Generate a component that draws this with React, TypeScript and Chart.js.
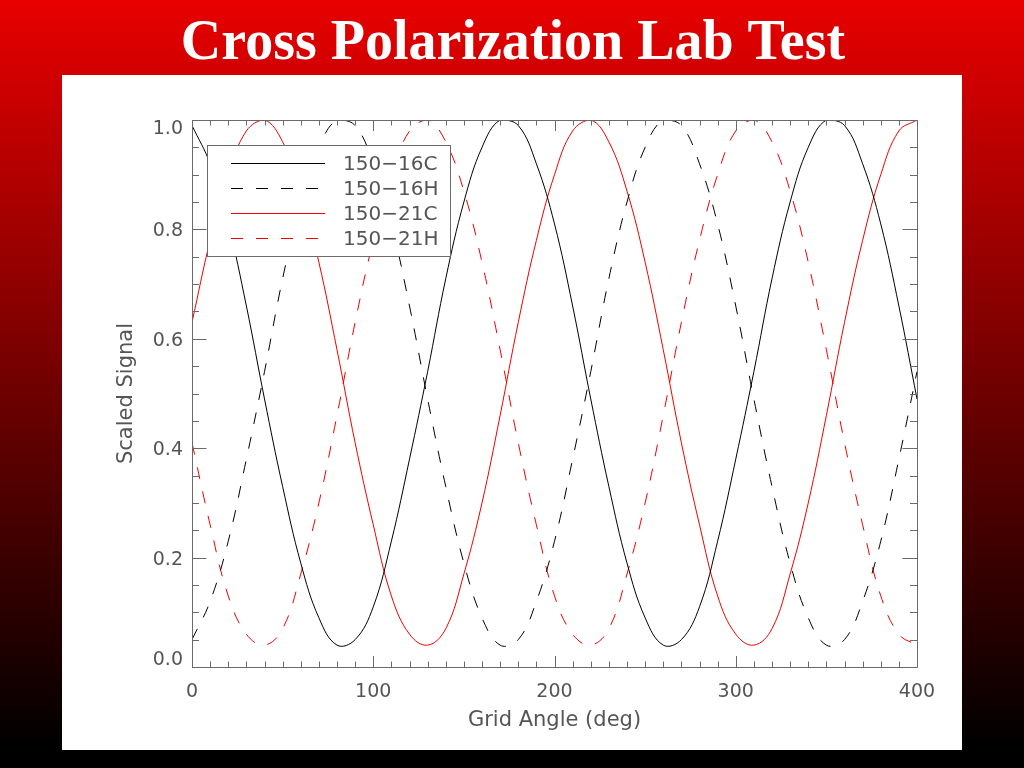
import React, { useEffect, useRef } from "react";
import { Chart, registerables } from "chart.js";

Chart.register(...registerables);

// ---- data ----
const ANGLES = [
  0, 10, 20, 30, 40, 50, 60, 70, 80, 90, 100, 110, 120, 130, 140, 150, 160, 170,
  180, 190, 200, 210, 220, 230, 240, 250, 260, 270, 280, 290, 300, 310, 320, 330,
  340, 350, 360, 370, 380, 390, 400,
];

const SIG_150_16C = [
  0.99, 0.92, 0.81, 0.66, 0.49, 0.33, 0.19, 0.09, 0.04, 0.05, 0.11, 0.23, 0.38, 0.54,
  0.71, 0.85, 0.95, 1.0, 0.99, 0.92, 0.81, 0.66, 0.49, 0.33, 0.19, 0.09, 0.04, 0.05,
  0.11, 0.23, 0.38, 0.54, 0.71, 0.85, 0.95, 1.0, 0.99, 0.92, 0.81, 0.66, 0.49,
];

const SIG_150_16H = [
  0.05, 0.12, 0.23, 0.38, 0.54, 0.71, 0.85, 0.95, 1.0, 0.99, 0.92, 0.81, 0.66, 0.49,
  0.33, 0.19, 0.09, 0.04, 0.05, 0.12, 0.23, 0.38, 0.54, 0.71, 0.85, 0.95, 1.0, 0.99,
  0.92, 0.81, 0.66, 0.49, 0.33, 0.19, 0.09, 0.04, 0.05, 0.12, 0.23, 0.38, 0.54,
];

const SIG_150_21C = [
  0.63, 0.78, 0.9, 0.98, 1.0, 0.96, 0.87, 0.74, 0.58, 0.41, 0.26, 0.13, 0.06, 0.04,
  0.07, 0.17, 0.3, 0.46, 0.63, 0.78, 0.9, 0.98, 1.0, 0.96, 0.87, 0.74, 0.58, 0.41,
  0.26, 0.13, 0.06, 0.04, 0.07, 0.17, 0.3, 0.46, 0.63, 0.78, 0.9, 0.98, 1.0,
];

const SIG_150_21H = [
  0.41, 0.26, 0.13, 0.06, 0.04, 0.07, 0.17, 0.3, 0.46, 0.63, 0.78, 0.9, 0.98, 1.0,
  0.96, 0.87, 0.74, 0.58, 0.41, 0.26, 0.13, 0.06, 0.04, 0.07, 0.17, 0.3, 0.46, 0.63,
  0.78, 0.9, 0.98, 1.0, 0.96, 0.87, 0.74, 0.58, 0.41, 0.26, 0.13, 0.06, 0.04,
];

const SERIES_LABELS = ["150\u221216C", "150\u221216H", "150\u221221C", "150\u221221H"];
const TITLE = "Cross Polarization Lab Test";
const X_TITLE = "Grid Angle (deg)";
const Y_TITLE = "Scaled Signal";
const X_MIN = 0;
const X_MAX = 400;
const X_STEP = 100;
const X_MINOR = 10;
const Y_MIN = 0;
const Y_MAX = 1;
const Y_STEP = 0.2;
const Y_MINOR = 0.05;

const BLACK = "#000000";
const RED = "rgb(240,0,0)";
const AXIS_GRAY = "#6a6a6a";
const TEXT_GRAY = "#555555";
const DASH = [12, 13];
const TICK_FONT = '19px "DejaVu Sans", sans-serif';

const toPoints = (vals: number[]) => ANGLES.map((a, i) => ({ x: a, y: vals[i] }));

const backgroundPlugin = {
  id: "slideBackground",
  beforeDraw(chart: any) {
    const { ctx, width, height } = chart;
    ctx.save();
    const g = ctx.createLinearGradient(0, 0, 0, 745);
    g.addColorStop(0, "#e80000");
    g.addColorStop(1, "#000000");
    ctx.fillStyle = g;
    ctx.fillRect(0, 0, width, height);
    ctx.fillStyle = "#ffffff";
    ctx.fillRect(62, 75, 900, 675);
    // slide title
    ctx.fillStyle = "#ffffff";
    ctx.font = 'bold 56px "Liberation Serif", serif';
    ctx.textAlign = "center";
    ctx.textBaseline = "alphabetic";
    ctx.fillText(TITLE, 513, 59);
    ctx.restore();
  },
};

const framePlugin = {
  id: "idlFrame",
  afterDatasetsDraw(chart: any) {
    const { ctx, chartArea } = chart;
    const xs = chart.scales.x;
    const ys = chart.scales.y;
    const { left, right, top, bottom } = chartArea;
    ctx.save();
    ctx.strokeStyle = AXIS_GRAY;
    ctx.lineWidth = 1;
    ctx.setLineDash([]);
    ctx.beginPath();
    ctx.rect(Math.round(left) + 0.5, Math.round(top) + 0.5, Math.round(right - left), Math.round(bottom - top));
    ctx.stroke();

    const xMaj = 11;
    const xMin = 5.5;
    const yMaj = 14.5;
    const yMin = 7;
    ctx.beginPath();
    const nx = Math.round((X_MAX - X_MIN) / X_MINOR);
    for (let i = 0; i <= nx; i++) {
      const v = X_MIN + i * X_MINOR;
      const px = Math.round(xs.getPixelForValue(v)) + 0.5;
      const len = Math.abs(v % X_STEP) < 1e-6 ? xMaj : xMin;
      ctx.moveTo(px, bottom);
      ctx.lineTo(px, bottom - len);
      ctx.moveTo(px, top);
      ctx.lineTo(px, top + len);
    }
    const ny = Math.round((Y_MAX - Y_MIN) / Y_MINOR);
    for (let i = 0; i <= ny; i++) {
      const v = Y_MIN + i * Y_MINOR;
      const py = Math.round(ys.getPixelForValue(v)) + 0.5;
      const isMaj = i % Math.round(Y_STEP / Y_MINOR) === 0;
      const len = isMaj ? yMaj : yMin;
      ctx.moveTo(left, py);
      ctx.lineTo(left + len, py);
      ctx.moveTo(right, py);
      ctx.lineTo(right - len, py);
    }
    ctx.stroke();

    // y tick labels, IDL style (end labels kept inside the axis range)
    ctx.fillStyle = TEXT_GRAY;
    ctx.font = TICK_FONT;
    ctx.textAlign = "right";
    ctx.textBaseline = "middle";
    for (const t of ys.ticks) {
      const py = ys.getPixelForValue(t.value) + 2;
      const y = Math.min(Math.max(py, top + 9), bottom - 7);
      ctx.fillText(Number(t.value).toFixed(1), left - 9, y);
    }

    // legend box (IDL style)
    const bx = 207.5;
    const by = 145.5;
    const bw = 243;
    const bh = 111;
    ctx.fillStyle = "#ffffff";
    ctx.fillRect(bx, by, bw, bh);
    ctx.strokeStyle = AXIS_GRAY;
    ctx.strokeRect(bx, by, bw, bh);
    const ds = chart.data.datasets;
    ctx.font = '20px "DejaVu Sans", sans-serif';
    ctx.textBaseline = "middle";
    ctx.textAlign = "left";
    for (let i = 0; i < ds.length; i++) {
      const y = 163.5 + i * 25;
      ctx.strokeStyle = ds[i].borderColor;
      ctx.setLineDash(ds[i].borderDash || []);
      ctx.beginPath();
      ctx.moveTo(231, y);
      ctx.lineTo(325, y);
      ctx.stroke();
      ctx.fillStyle = TEXT_GRAY;
      ctx.fillText(ds[i].label, 343, y + 1);
    }
    ctx.restore();
  },
};

export default function App() {
  const ref = useRef<HTMLCanvasElement | null>(null);

  useEffect(() => {
    const canvas = ref.current;
    if (!canvas) return;
    const tickFont = { family: '"DejaVu Sans", sans-serif', size: 19 };
    const titleFont = { family: '"DejaVu Sans", sans-serif', size: 21, lineHeight: 1.2 };
    const chart = new Chart(canvas, {
      type: "line",
      data: {
        datasets: [
          { label: SERIES_LABELS[0], data: toPoints(SIG_150_16C), borderColor: BLACK, borderDash: [] },
          { label: SERIES_LABELS[1], data: toPoints(SIG_150_16H), borderColor: BLACK, borderDash: DASH },
          { label: SERIES_LABELS[2], data: toPoints(SIG_150_21C), borderColor: RED, borderDash: [] },
          { label: SERIES_LABELS[3], data: toPoints(SIG_150_21H), borderColor: RED, borderDash: DASH },
        ].map((d) => ({ ...d, borderWidth: 1, pointRadius: 0, tension: 0.4, fill: false })),
      },
      options: {
        responsive: false,
        animation: false,
        events: [],
        layout: { padding: { left: 0, right: 107, top: 120, bottom: 0 } },
        plugins: {
          legend: { display: false },
          tooltip: { enabled: false },
          title: { display: false },
        },
        scales: {
          x: {
            type: "linear",
            min: X_MIN,
            max: X_MAX,
            ticks: { stepSize: X_STEP, color: TEXT_GRAY, font: tickFont, padding: 14, maxRotation: 0 },
            grid: { display: false, drawTicks: false },
            border: { display: false },
            title: { display: true, text: X_TITLE, color: TEXT_GRAY, font: titleFont, padding: { top: 0, bottom: 35 } },
            afterFit: (s: any) => {
              s.height = 101;
            },
          },
          y: {
            type: "linear",
            min: Y_MIN,
            max: Y_MAX,
            ticks: {
              display: false,
              stepSize: Y_STEP,
              callback: (v: any) => Number(v).toFixed(1),
            },
            grid: { display: false, drawTicks: false },
            border: { display: false },
            title: { display: true, text: Y_TITLE, color: TEXT_GRAY, font: titleFont, padding: { top: 114, bottom: 0 } },
            afterFit: (s: any) => {
              s.width = 192;
            },
          },
        },
      } as any,
      plugins: [backgroundPlugin, framePlugin],
    });
    return () => chart.destroy();
  }, []);

  return (
    <div style={{ position: "absolute", left: 0, top: 0, width: 1024, height: 768 }}>
      <canvas ref={ref} width={1024} height={768} style={{ width: 1024, height: 768, display: "block" }} />
    </div>
  );
}
